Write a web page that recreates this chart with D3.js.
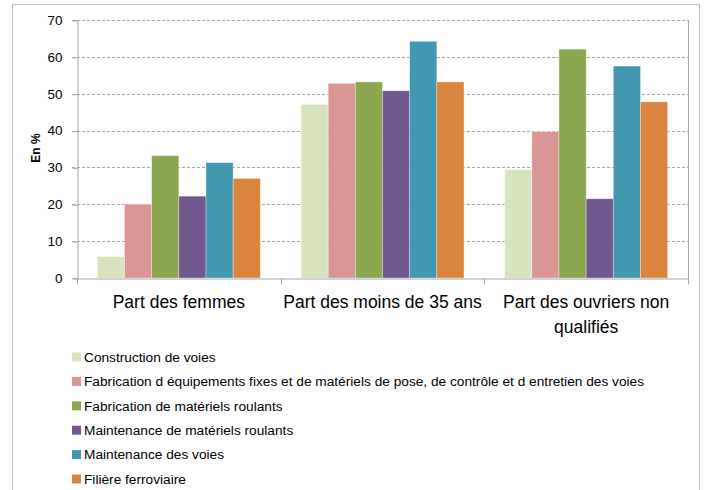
<!DOCTYPE html>
<html>
<head>
<meta charset="utf-8">
<script src="https://cdn.jsdelivr.net/npm/d3@7"></script>
<style>
  body { margin: 0; background: #fff; }
  svg text { font-family: "Liberation Sans Narrow", "Liberation Sans", Arial, sans-serif; fill: #000; }
</style>
</head>
<body>
<script>
var categories = ["Part des femmes", "Part des moins de 35 ans", "Part des ouvriers non qualifiés"]
var series = [
  "Construction de voies",
  "Fabrication d équipements fixes et de matériels de pose, de contrôle et d entretien des voies",
  "Fabrication de matériels roulants",
  "Maintenance de matériels roulants",
  "Maintenance des voies",
  "Filière ferroviaire"
]
var colors = ["#d7e4bd", "#d99694", "#8ba74f", "#71588f", "#4298b0", "#db843d"]
// one array per series, values for each category
var constructionVoies = [5.8, 47.1, 29.4]
var fabEquipements = [20.0, 52.8, 39.7]
var fabRoulants = [33.2, 53.2, 62.1]
var maintRoulants = [22.2, 50.8, 21.5]
var maintVoies = [31.3, 64.2, 57.5]
var filiere = [27.0, 53.2, 47.8]
var yTicks = [0, 10, 20, 30, 40, 50, 60, 70]

var values = [constructionVoies, fabEquipements, fabRoulants, maintRoulants, maintVoies, filiere]

var width = 706, height = 490
var margin = { top: 20, left: 77, right: 18, bottom: 212 }

var svg = d3.select('body')
    .append('svg')
    .attr('width', width)
    .attr('height', height)

// outer chart border
svg.append('rect')
    .attr('x', 12.5).attr('y', 4.5)
    .attr('width', 687).attr('height', 500)
    .attr('fill', 'none')
    .attr('stroke', '#bfbfbf')

var x0 = d3.scaleBand()
    .domain(categories)
    .range([margin.left, width - margin.right])

var x1 = d3.scaleBand()
    .domain(d3.range(series.length))
    .range([0, x0.bandwidth()])
    .paddingOuter(0.75)

var y = d3.scaleLinear()
    .domain([0, 70])
    .range([height - margin.bottom, margin.top])

// gridlines
svg.append('g')
    .selectAll('line')
    .data(yTicks.filter(function (d) { return d > 0 }))
    .enter().append('line')
    .attr('x1', margin.left - 5)
    .attr('x2', width - margin.right)
    .attr('y1', function (d) { return Math.round(y(d)) + 0.5 })
    .attr('y2', function (d) { return Math.round(y(d)) + 0.5 })
    .attr('stroke', '#a6a6a6')
    .attr('stroke-dasharray', '3,2')

// right border of plot
svg.append('line')
    .attr('x1', width - margin.right + 0.5).attr('x2', width - margin.right + 0.5)
    .attr('y1', margin.top).attr('y2', y(0))
    .attr('stroke', '#a6a6a6')

// bars
var groups = svg.append('g')
    .selectAll('g')
    .data(categories)
    .enter().append('g')
    .attr('transform', function (d) { return 'translate(' + x0(d) + ',0)' })

groups.selectAll('rect')
    .data(function (d, i) { return values.map(function (s, j) { return { s: j, v: s[i] } }) })
    .enter().append('rect')
    .attr('x', function (d) { return x1(d.s) })
    .attr('width', x1.bandwidth())
    .attr('y', function (d) { return y(d.v) })
    .attr('height', function (d) { return y(0) - y(d.v) })
    .attr('fill', function (d) { return colors[d.s] })
    .attr('stroke', '#fff')
    .attr('stroke-opacity', 0.4)
    .attr('stroke-width', 0.8)

// y axis
var yAxis = d3.axisLeft(y)
    .tickValues(yTicks)
    .tickSize(5)
    .tickPadding(10)
var gy = svg.append('g')
    .attr('transform', 'translate(' + (margin.left + 0.5) + ',0)')
    .call(yAxis)
gy.select('.domain').attr('stroke', '#a6a6a6')
gy.selectAll('.tick line').attr('stroke', '#a6a6a6')
gy.selectAll('.tick text').attr('font-size', 13.5)
gy.selectAll('.tick line').attr('transform', 'translate(0,0.5)')

// x axis
var xAxis = d3.axisBottom(x0).tickSize(0).tickFormat('')
var gx = svg.append('g')
    .attr('transform', 'translate(0,' + (Math.round(y(0)) + 0.5) + ')')
    .call(xAxis)
gx.select('.domain').attr('stroke', '#a6a6a6')
gx.selectAll('.tick').remove()

var bounds = categories.map(function (c) { return x0(c) }).concat([width - margin.right])
gx.selectAll('line.sep')
    .data(bounds)
    .enter().append('line')
    .attr('class', 'sep')
    .attr('x1', function (d) { return Math.round(d) + 0.5 })
    .attr('x2', function (d) { return Math.round(d) + 0.5 })
    .attr('y1', 0).attr('y2', 6)
    .attr('stroke', '#a6a6a6')

// category labels
var catLines = [["Part des femmes"], ["Part des moins de 35 ans"], ["Part des ouvriers non", "qualifiés"]]
svg.append('g')
    .selectAll('text')
    .data(categories)
    .enter().append('text')
    .attr('text-anchor', 'middle')
    .attr('font-size', 17.5)
    .attr('x', function (d) { return x0(d) + x0.bandwidth() / 2 })
    .attr('y', 308)
    .each(function (d, i) {
        var t = d3.select(this)
        catLines[i].forEach(function (l, k) {
            t.append('tspan')
                .attr('x', x0(d) + x0.bandwidth() / 2)
                .attr('dy', k === 0 ? 0 : 25)
                .text(l)
        })
    })

// y title
svg.append('text')
    .attr('transform', 'translate(40,148) rotate(-90)')
    .attr('text-anchor', 'middle')
    .attr('font-size', 12)
    .attr('font-weight', 'bold')
    .text('En %')

// legend
var legend = svg.append('g')
    .selectAll('g')
    .data(series)
    .enter().append('g')
    .attr('transform', function (d, i) { return 'translate(72,' + (357 + i * 24.4) + ')' })

legend.append('rect')
    .attr('x', 0).attr('y', -4.5)
    .attr('width', 9).attr('height', 9)
    .attr('fill', function (d, i) { return colors[i] })

legend.append('text')
    .attr('x', 12)
    .attr('y', 4.8)
    .attr('font-size', 13.7)
    .text(function (d) { return d })
</script>
</body>
</html>
